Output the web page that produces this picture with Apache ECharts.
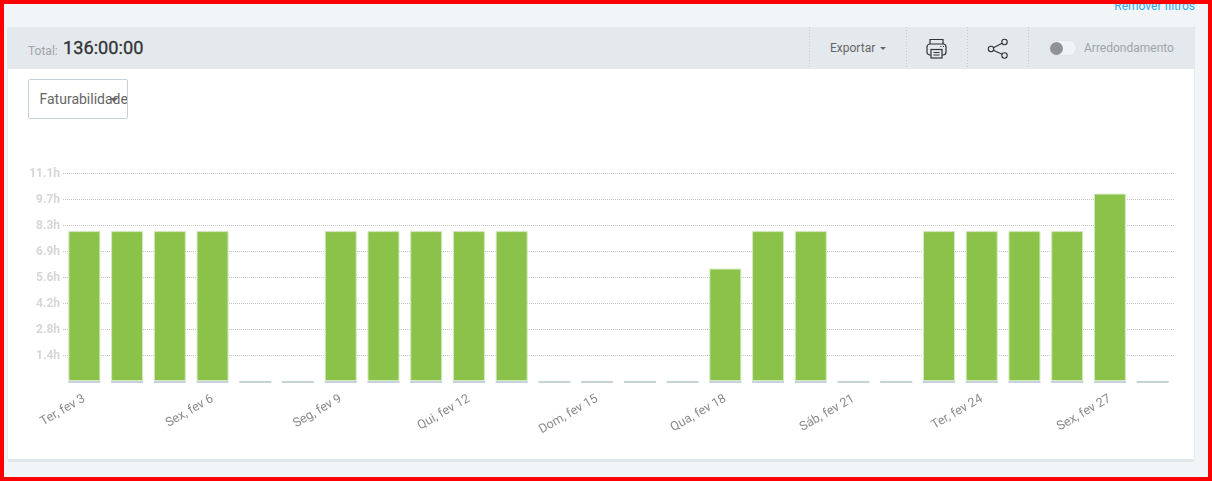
<!DOCTYPE html>
<html>
<head>
<meta charset="utf-8">
<script src="https://cdn.jsdelivr.net/npm/echarts@6/dist/echarts.min.js"></script>
<style>
html,body{margin:0;padding:0;width:1212px;height:481px;overflow:hidden;background:#f1f5f8;font-family:Roboto,sans-serif;}
.abs{position:absolute;}
#frame{left:0;top:0;width:1204px;height:473px;border:4px solid #ff0000;z-index:9;pointer-events:none;}
#remove{right:17px;top:-1px;font-size:12px;color:#2aa9f5;line-height:15px;}
#bar{left:7px;top:27px;width:1188px;height:42px;background:#e4e9ed;}
#panel{left:8px;top:69px;width:1186px;height:390px;background:#fff;box-shadow:0 3px 0 #e1e6ea,1px 0 0 #e6ebef,-1px 0 0 #e6ebef;}
#lblTotal{left:28px;top:44px;font-size:12px;color:#a0a4a7;}
#total{left:63px;top:37px;font-size:18.2px;color:#333;-webkit-text-stroke:.3px #333;}
.sep{top:27px;height:42px;width:1px;background:repeating-linear-gradient(to bottom,#c4c9cd 0,#c4c9cd 1px,transparent 1px,transparent 3px);}
#exportar{left:830px;top:41px;font-size:12px;color:#666;}
#caret{left:880px;top:47px;width:0;height:0;border-left:3px solid transparent;border-right:3px solid transparent;border-top:3px solid #666;}
#toggle{left:1049px;top:40px;width:28px;height:16px;background:#f1f4f6;border:1px solid #dfe4e8;border-radius:9px;box-sizing:border-box;}
#knob{left:1050px;top:42px;width:13px;height:13px;background:#909295;border-radius:50%;}
#arred{left:1084px;top:41px;font-size:12px;color:#a0a4a7;}
#select{left:28px;top:79px;width:100px;height:40px;box-sizing:border-box;border:1px solid #c3d1da;border-radius:2px;background:#fff;font-size:14px;color:#666;line-height:38px;padding-left:10.5px;white-space:nowrap;overflow:hidden;}
#selcaret{left:110px;top:98px;width:0;height:0;border-left:4px solid transparent;border-right:4px solid transparent;border-top:4px solid #666;z-index:2;}
#main{left:0;top:0;width:1212px;height:481px;}
</style>
</head>
<body>
<div id="remove" class="abs">Remover filtros</div>
<div id="bar" class="abs"></div>
<div id="panel" class="abs"></div>
<div id="lblTotal" class="abs">Total:</div>
<div id="total" class="abs">136:00:00</div>
<div class="abs sep" style="left:809px"></div>
<div class="abs sep" style="left:906px"></div>
<div class="abs sep" style="left:967px"></div>
<div class="abs sep" style="left:1028px"></div>
<div id="exportar" class="abs">Exportar</div>
<div id="caret" class="abs"></div>
<svg class="abs" style="left:926px;top:38px" width="22" height="22" viewBox="0 0 22 22" fill="none" stroke="#333" stroke-width="1.2">
	<path d="M4 6V1.5h13V6"/>
	<rect x="1" y="6" width="19" height="11" rx="3"/>
	<rect x="5" y="11.5" width="11" height="8.5" fill="#e4e9ed"/>
	<path d="M7.5 14.5h6M7.5 17h6"/>
	<path d="M14.5 8.5h1M17 8.5h1"/>
</svg>
<svg class="abs" style="left:987px;top:38px" width="22" height="22" viewBox="0 0 22 22" fill="none" stroke="#333" stroke-width="1.1">
	<circle cx="4" cy="11" r="2.7"/>
	<circle cx="17.5" cy="4" r="2.7"/>
	<circle cx="17.5" cy="17.5" r="2.7"/>
	<path d="M6.4 9.8L15.1 5.2M6.4 12.2L15.1 16.3"/>
</svg>
<div id="toggle" class="abs"></div>
<div id="knob" class="abs"></div>
<div id="arred" class="abs">Arredondamento</div>
<div id="main" class="abs"></div>
<div id="select" class="abs">Faturabilidade</div>
<div id="selcaret" class="abs"></div>
<div id="frame" class="abs"></div>

<script type="text/javascript">
var days = ['Ter, fev 3','Qua, fev 4','Qui, fev 5','Sex, fev 6','Sáb, fev 7','Dom, fev 8','Seg, fev 9',
	'Ter, fev 10','Qua, fev 11','Qui, fev 12','Sex, fev 13','Sáb, fev 14','Dom, fev 15','Seg, fev 16',
	'Ter, fev 17','Qua, fev 18','Qui, fev 19','Sex, fev 20','Sáb, fev 21','Dom, fev 22','Seg, fev 23',
	'Ter, fev 24','Qua, fev 25','Qui, fev 26','Sex, fev 27','Sáb, fev 28'];
var hours = [8,8,8,8,0,0,8,8,8,8,8,0,0,0,0,6,8,8,0,0,8,8,8,8,10,0];
var baseline = [-0.11,-0.11,-0.11,-0.11,-0.11,-0.11,-0.11,-0.11,-0.11,-0.11,-0.11,-0.11,-0.11,
	-0.11,-0.11,-0.11,-0.11,-0.11,-0.11,-0.11,-0.11,-0.11,-0.11,-0.11,-0.11,-0.11];
var yTickLabels = ['','1.4h','2.8h','4.2h','5.6h','6.9h','8.3h','9.7h','11.1h'];

var myChart = echarts.init(document.getElementById('main'));

var option = {
	animation: false,
	backgroundColor: 'transparent',
	grid: {left: 63, right: 38, top: 173, height: 208, containLabel: false},
	xAxis: {
		type: 'category',
		data: days,
		axisLine: {show: false},
		axisTick: {show: false},
		axisLabel: {
			interval: 2,
			rotate: 30,
			margin: 17,
			color: '#8a8a8a',
			fontSize: 12.5,
			fontFamily: 'Roboto'
		}
	},
	yAxis: {
		type: 'value',
		min: 0,
		max: 11.1,
		interval: 1.3875,
		axisLine: {show: false},
		axisTick: {show: false},
		axisLabel: {
			margin: 3,
			formatter: function (value, index) {
				return yTickLabels[index] ? '{t|' + yTickLabels[index] + '}' : '';
			},
			rich: {
				t: {
					padding: [2, 0, 0, 0],
					color: '#d6d6d6',
					fontSize: 12,
					fontWeight: 'bold',
					fontFamily: 'Roboto'
				}
			}
		},
		splitLine: {
			showMinLine: false,
			lineStyle: {type: 'dotted', color: '#c4c4c4', width: 1}
		}
	},
	series: [
		{
			name: 'base',
			type: 'bar',
			data: baseline,
			barWidth: 32,
			barGap: '-100%',
			clip: false,
			silent: true,
			itemStyle: {color: '#c5d3da'}
		},
		{
			name: 'Faturabilidade',
			type: 'bar',
			// dias sem horas nao levam borda, so a faixa de base aparece
			data: hours.map(function (h) {
				return h > 0 ? h : {value: h, itemStyle: {borderWidth: 0}};
			}),
			barWidth: 32,
			barGap: '-100%',
			clip: false,
			itemStyle: {color: '#8bc34a', borderColor: '#d5e8c2', borderWidth: 1}
		}
	]
};

myChart.setOption(option);
</script>
</body>
</html>
